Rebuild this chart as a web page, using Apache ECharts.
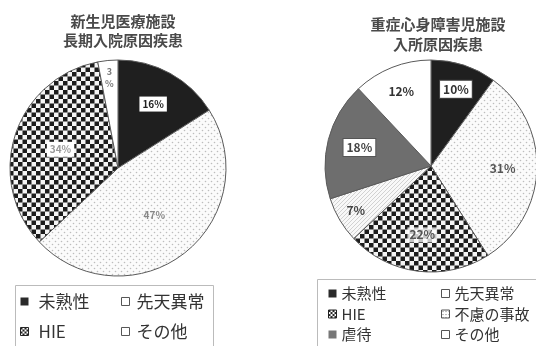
<!DOCTYPE html>
<html>
<head>
<meta charset="utf-8">
<script src="https://cdn.jsdelivr.net/npm/echarts@6/dist/echarts.min.js"></script>
<style>
  html, body { margin: 0; padding: 0; background: #fff; }
  #chart { width: 536px; height: 346px; }
</style>
</head>
<body>
<div id="chart"></div>
<script>
// Causes of long-term hospitalisation (NICU) and of admission to facilities
// for children with severe motor and intellectual disabilities, in percent.
const nicuCategories = ['未熟性', '先天異常', 'HIE', 'その他'];
const nicuValues = [16, 47, 34, 3];

const smidCategories = ['未熟性', '先天異常', 'HIE', '不慮の事故', '虐待', 'その他'];
const smidValues = [10, 31, 22, 7, 18, 12];

const nicuTitle = '新生児医療施設\n長期入院原因疾患';
const smidTitle = '重症心身障害児施設\n入所原因疾患';

const FONT = '"Noto Sans CJK JP", "Noto Sans", sans-serif';

// ---- fill patterns drawn on small tiles ----
function tile(w, h, draw) {
  const c = document.createElement('canvas');
  c.width = w; c.height = h;
  const g = c.getContext('2d');
  draw(g, w, h);
  return { image: c, repeat: 'repeat' };
}
const checker = () => tile(9, 9, (g) => {
  g.fillStyle = '#f4f4f4'; g.fillRect(0, 0, 9, 9);
  g.fillStyle = '#1c1c1c';
  g.fillRect(0, 0, 4.5, 4.5);
  g.fillRect(4.5, 4.5, 4.5, 4.5);
});
const dots = () => tile(6, 6, (g) => {
  g.fillStyle = '#fbfbfb'; g.fillRect(0, 0, 6, 6);
  g.fillStyle = '#bdbdbd';
  g.beginPath(); g.arc(1.5, 1.5, 0.8, 0, Math.PI * 2); g.fill();
  g.beginPath(); g.arc(4.5, 4.5, 0.8, 0, Math.PI * 2); g.fill();
});
const hatch = () => tile(4, 4, (g) => {
  g.fillStyle = '#f8f8f8'; g.fillRect(0, 0, 4, 4);
  g.strokeStyle = '#c6c6c6'; g.lineWidth = 0.8;
  g.beginPath(); g.moveTo(-1, 5); g.lineTo(5, -1); g.stroke();
});

const sliceFill = {
  '未熟性': '#1f1f1f',
  '先天異常': dots(),
  'HIE': checker(),
  '不慮の事故': hatch(),
  '虐待': '#6e6e6e',
  'その他': '#ffffff'
};

// label looks
const boxed = (color, border) => ({
  color: color, backgroundColor: '#fff', borderColor: border, borderWidth: border ? 1 : 0,
  padding: [3, 3, 2, 3]
});
const plain = (color) => ({ color: color });

const nicuLabelStyle = {
  '未熟性': Object.assign(boxed('#222', null), { fontSize: 10 }),
  '先天異常': Object.assign(plain('#888'), { fontSize: 10 }),
  'HIE': Object.assign(boxed('#999', null), { fontSize: 10 }),
  'その他': Object.assign(plain('#777'), { fontSize: 9, lineHeight: 12 })
};
const smidLabelStyle = {
  '未熟性': Object.assign(boxed('#333', '#444'), { fontSize: 12 }),
  '先天異常': Object.assign(plain('#555'), { fontSize: 12 }),
  'HIE': Object.assign({ color: '#555', backgroundColor: 'rgba(255,255,255,0.75)', padding: [2, 2, 1, 2] }, { fontSize: 12 }),
  '不慮の事故': Object.assign(plain('#444'), { fontSize: 12 }),
  '虐待': Object.assign(boxed('#444', '#555'), { fontSize: 12 }),
  'その他': Object.assign(plain('#333'), { fontSize: 12 })
};

// how far out (fraction of radius) each percentage sits
const nicuLabelRadius = [0.64, 0.52, 0.53, 0.80];
const smidLabelRadius = [0.72, 0.64, 0.62, 0.78, 0.66, 0.72];

const nicuCenter = [118, 168], nicuR = 108;
const smidCenter = [431, 166], smidR = 106;

function buildData(cats, vals, labelStyle) {
  return cats.map((name, i) => ({
    name: name,
    value: vals[i],
    itemStyle: { color: sliceFill[name] },
    label: Object.assign({
      formatter: name === 'その他' && vals[i] < 5 ? vals[i] + '\n%' : vals[i] + '%'
    }, labelStyle[name])
  }));
}

// Inside labels start at half the radius; push them out radially.
function radialLayout(center, fractions) {
  return function (p) {
    const r = p.labelRect;
    const lx = r.x + r.width / 2, ly = r.y + r.height / 2;
    const k = fractions[p.dataIndex] / 0.5 - 1;
    return { dx: (lx - center[0]) * k, dy: (ly - center[1]) * k };
  };
}

function pieSeries(cats, vals, labelStyle, center, radius, fractions) {
  return {
    type: 'pie',
    center: center,
    radius: [0, radius],
    startAngle: 90,
    clockwise: true,
    silent: true,
    animation: false,
    itemStyle: { borderColor: '#5a5a5a', borderWidth: 1 },
    label: { show: true, position: 'inside', fontFamily: FONT, fontWeight: 'bold' },
    labelLine: { show: false },
    emphasis: { disabled: true },
    labelLayout: radialLayout(center, fractions),
    data: buildData(cats, vals, labelStyle)
  };
}

// legend swatches
const swatch = {
  '未熟性': { color: '#2a2a2a', borderWidth: 0 },
  '先天異常': { color: '#fff', borderColor: '#555', borderWidth: 1 },
  'HIE': { color: tile(4, 4, (g) => { g.fillStyle = '#fff'; g.fillRect(0, 0, 4, 4); g.fillStyle = '#222'; g.fillRect(0, 0, 2, 2); g.fillRect(2, 2, 2, 2); }), borderColor: '#222', borderWidth: 1 },
  '不慮の事故': { color: tile(3, 3, (g) => { g.fillStyle = '#fff'; g.fillRect(0, 0, 3, 3); g.fillStyle = '#777'; g.fillRect(1, 1, 1, 1); }), borderColor: '#555', borderWidth: 1 },
  '虐待': { color: '#777', borderWidth: 0 },
  'その他': { color: '#fff', borderColor: '#555', borderWidth: 1 }
};

function legendCol(names, left, top, fontSize, gap, size, pad) {
  return {
    orient: 'vertical',
    left: left, top: top,
    height: 120,
    padding: 0,
    itemWidth: size, itemHeight: size,
    itemGap: gap,
    selectedMode: false,
    icon: 'rect',
    textStyle: { fontFamily: FONT, fontSize: fontSize, color: '#333', padding: [0, 0, 0, pad] },
    data: names.map((n) => ({ name: n, icon: 'rect', itemStyle: swatch[n] }))
  };
}

const chart = echarts.init(document.getElementById('chart'), null, { renderer: 'canvas' });
chart.setOption({
  backgroundColor: '#fff',
  animation: false,
  title: [
    { text: nicuTitle, left: 118, top: 7, textAlign: 'center',
      textStyle: { fontFamily: FONT, fontSize: 15, fontWeight: 'bold', color: '#4a4a4a', lineHeight: 19 } },
    { text: smidTitle, left: 433, top: 9, textAlign: 'center',
      textStyle: { fontFamily: FONT, fontSize: 15, fontWeight: 'bold', color: '#4a4a4a', lineHeight: 20 } }
  ],
  legend: [
    legendCol(['未熟性', 'HIE'], 20, 293, 17, 13, 8, 5),
    legendCol(['先天異常', 'その他'], 121, 293, 17, 13, 8, 2),
    legendCol(['未熟性', 'HIE', '虐待'], 328, 286, 15, 5.5, 8, 0),
    legendCol(['先天異常', '不慮の事故', 'その他'], 441, 286, 15, 5.5, 8, 0)
  ],
  graphic: [
    { type: 'rect', shape: { x: 15.5, y: 285.5, width: 198, height: 70 }, style: { fill: 'none', stroke: '#bbb', lineWidth: 1 }, z: -1 },
    { type: 'rect', shape: { x: 317.5, y: 279.5, width: 240, height: 80 }, style: { fill: 'none', stroke: '#bbb', lineWidth: 1 }, z: -1 }
  ],
  series: [
    pieSeries(nicuCategories, nicuValues, nicuLabelStyle, nicuCenter, nicuR, nicuLabelRadius),
    pieSeries(smidCategories, smidValues, smidLabelStyle, smidCenter, smidR, smidLabelRadius)
  ]
});
</script>
</body>
</html>
